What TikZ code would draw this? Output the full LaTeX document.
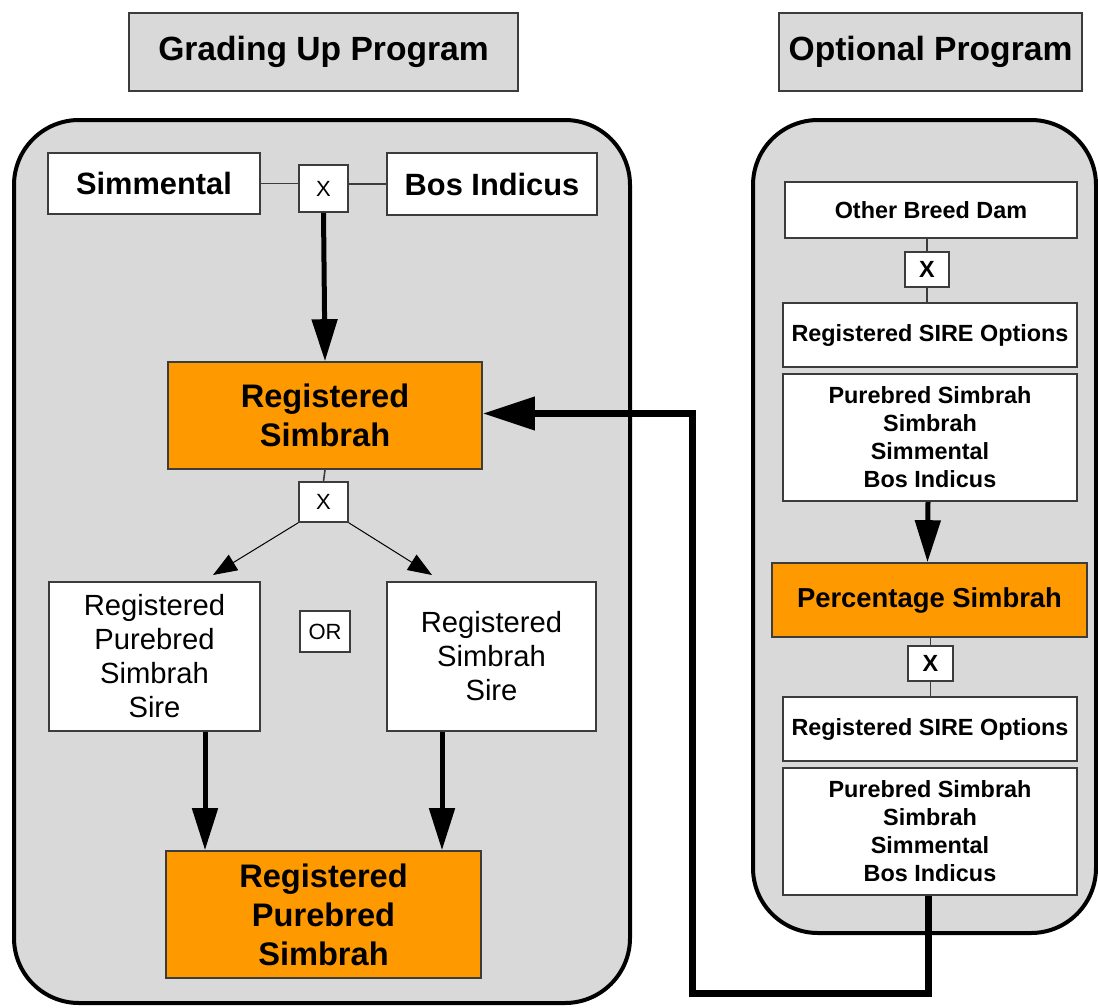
\documentclass[tikz,border=0pt]{standalone}
\usepackage{fontspec}
\setmainfont{Liberation Sans}
\usetikzlibrary{arrows.meta,positioning}
\definecolor{panelgray}{RGB}{217,217,217}
\definecolor{simorange}{RGB}{255,153,0}
\definecolor{boxline}{RGB}{60,60,60}

\begin{document}
\begin{tikzpicture}[x=0.5pt,y=-0.5pt,
  box/.style={draw=boxline,line width=0.8pt,fill=white,inner sep=0pt,align=center},
  titlebox/.style={box,fill=panelgray},
  orangebox/.style={box,fill=simorange},
  panel/.style={draw=black,line width=2pt,fill=panelgray,rounded corners=32.5pt},
  joinline/.style={draw=boxline,line width=0.8pt},
  thin arrow/.style={line width=0.5pt,-{Triangle[length=12pt,width=9pt]}},
  big arrow/.style={line width=2.5pt,-{Triangle[length=21pt,width=12.5pt]}},
  feed arrow/.style={line width=3.5pt,-{Triangle[length=26pt,width=16pt]}}]
  % Font sizes
  \newcommand{\titlefont}{\fontsize{16.8}{19.5}\bfseries\selectfont}
  \newcommand{\orangefont}{\fontsize{16.3}{19.5}\bfseries\selectfont}
  \newcommand{\breedfont}{\fontsize{15.4}{18}\bfseries\selectfont}
  \newcommand{\sirefont}{\fontsize{14.6}{17}\selectfont}
  \newcommand{\optfont}{\fontsize{11.7}{14}\bfseries\selectfont}
  \newcommand{\crossfont}{\fontsize{11}{13}\selectfont}
  %
  \useasboundingbox (0,0) rectangle (1098,1007);
  %
  % Titles
  \node[titlebox,font=\titlefont,minimum width=194.5pt,minimum height=39pt] (gradetitle)
    at (323.5,52) {Grading Up Program};
  \node[titlebox,font=\titlefont,minimum width=151.5pt,minimum height=39pt] (opttitle)
    at (930.5,52) {Optional Program};
  %
  % Panels
  \draw[panel] (14,120) rectangle (630,1003);
  \draw[panel] (753,120) rectangle (1096,933);
  %
  % Grading up program
  \node[box,font=\breedfont,minimum width=106pt,minimum height=30.5pt] (simmental)
    at (154,183.5) {Simmental};
  \node[box,font=\crossfont,minimum width=24.5pt,minimum height=23.5pt] (crossa)
    at (323.5,188.5) {X};
  \node[box,font=\breedfont,minimum width=105pt,minimum height=31pt] (bosindicus)
    at (492,184) {Bos Indicus};
  \node[orangebox,font=\orangefont,minimum width=157pt,minimum height=53.5pt] (regsimbrah)
    at (325,415.5) {Registered\\Simbrah};
  \node[box,font=\crossfont,minimum width=24.5pt,minimum height=20pt] (crossb)
    at (323.5,502) {X};
  \node[box,font=\sirefont,minimum width=105.5pt,minimum height=74.5pt] (puresire)
    at (154.5,656.5) {Registered\\Purebred\\Simbrah\\Sire};
  \node[box,font=\crossfont,minimum width=25pt,minimum height=20.5pt] (orbox)
    at (325,631.5) {OR};
  \node[box,font=\sirefont,minimum width=104.5pt,minimum height=74.5pt] (simsire)
    at (491.5,656.5) {Registered\\Simbrah\\Sire};
  \node[orangebox,font=\orangefont,minimum width=157.5pt,minimum height=63.5pt] (regpure)
    at (323.5,914.5) {Registered\\Purebred\\Simbrah};
  %
  % Optional program
  \node[box,font=\optfont,minimum width=146pt,minimum height=28pt] (otherdam)
    at (931,210) {Other Breed Dam};
  \node[box,font=\optfont,minimum width=22pt,minimum height=17.5pt] (crossc)
    at (927,269.5) {X};
  \node[box,font=\optfont,minimum width=147pt,minimum height=32pt] (sireopta)
    at (930,335) {Registered SIRE Options};
  \node[box,font=\optfont,minimum width=147pt,minimum height=63.5pt] (breedsa)
    at (930,437.5) {Purebred Simbrah\\Simbrah\\Simmental\\Bos Indicus};
  \node[orangebox,font=\fontsize{13.7}{16}\bfseries\selectfont,
    minimum width=157.5pt,minimum height=37pt] (pctsimbrah)
    at (929.5,600) {Percentage Simbrah};
  \node[box,font=\optfont,minimum width=22.5pt,minimum height=17.5pt] (crossd)
    at (930.5,663.5) {X};
  \node[box,font=\optfont,minimum width=147pt,minimum height=32pt] (sireoptb)
    at (930,729) {Registered SIRE Options};
  \node[box,font=\optfont,minimum width=147pt,minimum height=63.5pt] (breedsb)
    at (930,831.5) {Purebred Simbrah\\Simbrah\\Simmental\\Bos Indicus};
  %
  % Crossing lines
  \draw[joinline] (simmental.east) -- (simmental.east -| crossa.west);
  \draw[joinline] (bosindicus.west) -- (bosindicus.west -| crossa.east);
  \draw[joinline] (regsimbrah.south) -- (crossb.north);
  \draw[joinline] (otherdam.south -| crossc) -- (crossc.north);
  \draw[joinline] (crossc.south) -- (crossc.south |- sireopta.north);
  \draw[joinline] (pctsimbrah.south -| crossd) -- (crossd.north);
  \draw[joinline] (crossd.south) -- (crossd.south |- sireoptb.north);
  %
  % Arrows
  \coordinate (tipleft) at (213,575);
  \coordinate (tipright) at (432,575);
  \draw[big arrow] (crossa.south) -- (regsimbrah.north);
  \draw[thin arrow] (crossb.south west) -- (tipleft);
  \draw[thin arrow] (crossb.south east) -- (tipright);
  \draw[big arrow] ([xshift=25.25pt]puresire.south)
    -- ([xshift=25.25pt]puresire.south |- regpure.north);
  \draw[big arrow] ([xshift=-24.75pt]simsire.south)
    -- ([xshift=-24.75pt]simsire.south |- regpure.north);
  \draw[big arrow] ([xshift=-1pt]breedsa.south) -- ([xshift=-1pt]pctsimbrah.north);
  %
  % Feedback line
  \coordinate (feedcorner) at (692,993);
  \draw[feed arrow] ([xshift=-1pt]breedsb.south) |- (feedcorner)
    |- ([yshift=1pt]regsimbrah.east);
  %
\end{tikzpicture}
\end{document}
